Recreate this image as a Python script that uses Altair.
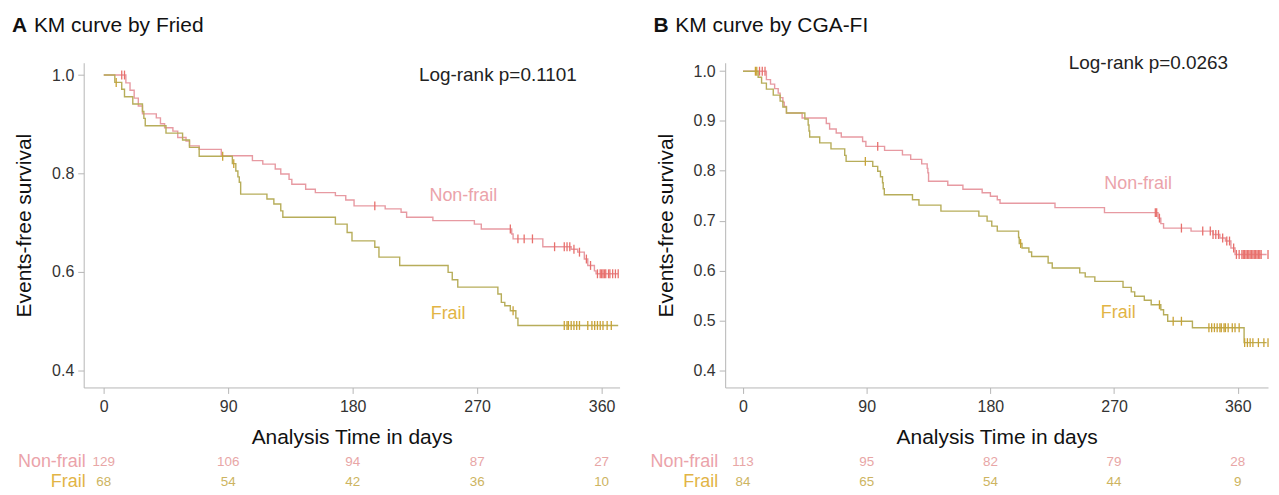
import altair as alt
import pandas as pd

GROUPS = ["Non-frail", "Frail"]
RISK_TIMES = [0, 90, 180, 270, 360]

# ---------------- Panel A : Fried ----------------
A_NF_T = [0, 16, 19, 22, 25, 28, 38, 41, 44, 50, 53.5, 59.5, 62, 69, 85, 107.5, 115, 124, 128, 134, 136,
          146, 153, 167.5, 175, 181, 203.5, 215, 219, 238, 268, 273, 295, 296, 317.5, 338, 342.7, 347.5,
          350, 354.8, 356]
A_NF_S = [1.0, 0.984, 0.969, 0.953, 0.937, 0.921, 0.913, 0.901, 0.893, 0.886, 0.873, 0.866, 0.856, 0.849,
          0.836, 0.826, 0.819, 0.809, 0.799, 0.788, 0.778, 0.768, 0.761, 0.755, 0.746, 0.734, 0.728, 0.721,
          0.711, 0.704, 0.697, 0.687, 0.677, 0.667, 0.651, 0.646, 0.640, 0.626, 0.613, 0.602, 0.596]
A_NF_CENS = [13, 15, 196, 294, 299.5, 304, 310, 326, 333, 335, 337, 340, 344, 349, 352, 357, 359, 360,
             361, 362, 363, 365, 366, 368, 370, 372]
A_F_T = [0, 8, 13, 15, 21, 28, 29, 30, 45, 57, 62, 69, 93, 95.5, 97, 98, 99, 118, 123, 128, 129.5, 167.5,
         176, 179.5, 196, 199, 214, 249, 252, 256, 285, 287.5, 290, 294, 298, 299.5]
A_F_S = [1.0, 0.985, 0.971, 0.956, 0.941, 0.926, 0.912, 0.897, 0.882, 0.868, 0.853, 0.835, 0.820, 0.805,
         0.793, 0.782, 0.758, 0.748, 0.738, 0.724, 0.711, 0.697, 0.680, 0.663, 0.650, 0.630, 0.613, 0.599,
         0.584, 0.569, 0.555, 0.538, 0.531, 0.521, 0.506, 0.491]
A_F_CENS = [9, 86, 94, 296, 333, 335, 336, 338, 340, 342, 344, 350, 353, 355, 357, 359, 361, 364, 367]
A_RISK_NF = [129, 106, 94, 87, 27]
A_RISK_F = [68, 54, 42, 36, 10]

# ---------------- Panel B : CGA-FI ----------------
B_NF_T = [0, 17, 20, 23, 25.6, 27, 29, 30, 31.6, 43, 60.6, 63, 67.8, 71.5, 87, 89.4, 103, 116, 122, 130,
          134, 134.5, 135, 149, 160, 174, 180, 185, 187, 227, 263, 302, 304, 306, 326, 342, 347, 351, 355, 358]
B_NF_S = [1.0, 0.983, 0.974, 0.965, 0.956, 0.947, 0.938, 0.929, 0.916, 0.906, 0.895, 0.884, 0.876, 0.868,
          0.859, 0.849, 0.841, 0.832, 0.823, 0.814, 0.805, 0.796, 0.779, 0.771, 0.763, 0.756, 0.749, 0.742,
          0.735, 0.726, 0.716, 0.705, 0.694, 0.685, 0.679, 0.672, 0.665, 0.659, 0.645, 0.632]
B_NF_CENS = [12, 14, 16, 98, 300, 301, 303, 319, 334.5, 340, 342, 344, 346, 349, 352, 354, 357, 359, 361,
             363, 364, 365, 366, 367, 368, 369, 370, 371, 372, 373, 374, 375, 376, 377, 382]
B_F_T = [0, 11, 13.5, 17, 22, 27, 29, 31.6, 45, 47.4, 48, 48.5, 55.8, 64, 74, 75, 94.4, 98, 100, 101.5,
         102, 102.8, 123.3, 128, 144, 171.6, 177.6, 181, 185, 200.5, 201, 203, 208, 210, 222, 225, 245, 249,
         256, 276.5, 282.5, 285, 292, 297, 304, 306, 309, 327, 364.6]
B_F_S = [1.0, 0.988, 0.976, 0.964, 0.952, 0.940, 0.928, 0.916, 0.904, 0.892, 0.880, 0.868, 0.856, 0.844,
         0.831, 0.819, 0.809, 0.799, 0.788, 0.776, 0.764, 0.752, 0.742, 0.731, 0.719, 0.709, 0.699, 0.689,
         0.679, 0.666, 0.654, 0.645, 0.637, 0.628, 0.615, 0.605, 0.595, 0.587, 0.578, 0.566, 0.557, 0.548,
         0.540, 0.531, 0.521, 0.511, 0.498, 0.485, 0.455]
B_F_CENS = [9, 10, 89, 202, 303, 313, 319, 339, 341, 343, 345, 347, 348, 350, 351, 353, 356, 358, 361, 365,
            367, 369, 371, 375, 379, 382]
B_RISK_NF = [113, 95, 82, 79, 28]
B_RISK_F = [84, 65, 54, 44, 9]

NF_LINE, NF_CENS, NF_TEXT, NF_NUM = "#e79aa2", "#e8706c", "#eba3aa", "#e8a6a6"
F_LINE, F_CENS, F_TEXT, F_NUM = "#b7ad5a", "#c9a235", "#e2b445", "#cdb461"
FONT = "Liberation Sans"


def step_frame(times, surv, end):
    rows = [{"t": t, "s": s} for t, s in zip(times, surv)]
    rows.append({"t": end, "s": surv[-1]})
    return pd.DataFrame(rows)


def cens_frame(times, surv, cens):
    out = []
    for c in cens:
        val = 1.0
        for t, s in zip(times, surv):
            if t <= c:
                val = s
        out.append({"t": c, "s": val})
    return pd.DataFrame(out)


def panel(letter, title, nf_t, nf_s, nf_c, f_t, f_s, f_c, xmin, xmax, ytop, yvals, width,
          risk_nf, risk_f, pval, pv_pos, nf_pos, f_pos, lab_x):
    xs = alt.Scale(domain=[xmin, xmax], nice=False, zero=False)
    ys = alt.Scale(domain=[0.365, ytop], nice=False, zero=False)
    xax = alt.Axis(values=RISK_TIMES, title="Analysis Time in days", labelFlush=False,
                   tickSize=6, labelPadding=5, titlePadding=12)
    yax = alt.Axis(values=yvals, format=".1f", title="Events-free survival", tickSize=6,
                   labelPadding=4, titlePadding=17)
    X = alt.X("t:Q", scale=xs, axis=xax)
    Y = alt.Y("s:Q", scale=ys, axis=yax)
    end = xmax - 1

    layers = []
    for t, s, c, lc, cc in [(nf_t, nf_s, nf_c, NF_LINE, NF_CENS), (f_t, f_s, f_c, F_LINE, F_CENS)]:
        layers.append(alt.Chart(step_frame(t, s, end)).mark_line(
            interpolate="step-after", color=lc, strokeWidth=1.4).encode(x=X, y=Y))
        layers.append(alt.Chart(cens_frame(t, s, c)).mark_point(
            shape="M0,-1L0,1", size=80, filled=False, strokeWidth=1.3, color=cc, opacity=1
        ).encode(x=X, y=Y))
    labels = [("Non-frail", nf_pos, NF_TEXT, 18), ("Frail", f_pos, F_TEXT, 18),
              (pval, pv_pos, "#222222", 19)]
    for txt, pos, col, fs in labels:
        layers.append(alt.Chart(pd.DataFrame({"t": [pos[0]], "s": [pos[1]], "label": [txt]})).mark_text(
            fontSize=fs, color=col, baseline="middle").encode(x=X, y=Y, text="label:N"))
    km = alt.layer(*layers)

    ry = alt.Scale(type="point", domain=GROUPS, range=[401, 421], padding=0)
    risk_layers = []
    for g, vals, ncol, tcol in [("Non-frail", risk_nf, NF_NUM, NF_TEXT), ("Frail", risk_f, F_NUM, F_TEXT)]:
        df = pd.DataFrame({"t": RISK_TIMES, "n": vals, "group": [g] * len(vals)})
        risk_layers.append(alt.Chart(df).mark_text(fontSize=13.5, color=ncol, baseline="middle").encode(
            x=alt.X("t:Q", scale=xs, axis=xax), y=alt.Y("group:N", scale=ry, axis=None), text="n:Q"))
        risk_layers.append(alt.Chart(pd.DataFrame({"group": [g]})).mark_text(
            fontSize=18, color=tcol, align="right", baseline="middle").encode(
            x=alt.value(lab_x), y=alt.Y("group:N", scale=ry, axis=None), text="group:N"))

    head = [
        alt.Chart(pd.DataFrame({"k": [0]})).mark_text(
            text=letter, fontSize=21, fontWeight="bold", align="left", baseline="middle", color="#111"
        ).encode(x=alt.value(-72), y=alt.value(-37)),
        alt.Chart(pd.DataFrame({"k": [0]})).mark_text(
            text=title, fontSize=21, align="left", baseline="middle", color="#111"
        ).encode(x=alt.value(-50), y=alt.value(-37)),
    ]
    return alt.layer(km, *risk_layers, *head).resolve_scale(y="independent").properties(
        width=width, height=326)


pA = panel("A", "KM curve by Fried", A_NF_T, A_NF_S, A_NF_CENS, A_F_T, A_F_S, A_F_CENS,
           -14.5, 373, 1.025, [0.4, 0.6, 0.8, 1.0], 538, A_RISK_NF, A_RISK_F,
           "Log-rank p=0.1101", (285, 1.0), (260, 0.755), (249, 0.515), 2)
pB = panel("B", "KM curve by CGA-FI", B_NF_T, B_NF_S, B_NF_CENS, B_F_T, B_F_S, B_F_CENS,
           -13, 382, 1.017, [0.4, 0.5, 0.6, 0.7, 0.8, 0.9, 1.0], 545, B_RISK_NF, B_RISK_F,
           "Log-rank p=0.0263", (295, 1.016), (287.5, 0.773), (273, 0.514), -7)

chart = alt.hconcat(pA, pB, spacing=28).properties(
    padding={"left": 4, "top": 6, "right": 0, "bottom": 0}
).configure(font=FONT).configure_view(stroke=None).configure_axis(
    grid=False, domainColor="#b5b5b5", tickColor="#b5b5b5", labelColor="#333333",
    titleColor="#111111", labelFontSize=16, titleFontSize=21, titleFontWeight="normal",
    labelFont=FONT, titleFont=FONT)

chart.save("out.html", embed_options={"renderer": "svg", "actions": False})
